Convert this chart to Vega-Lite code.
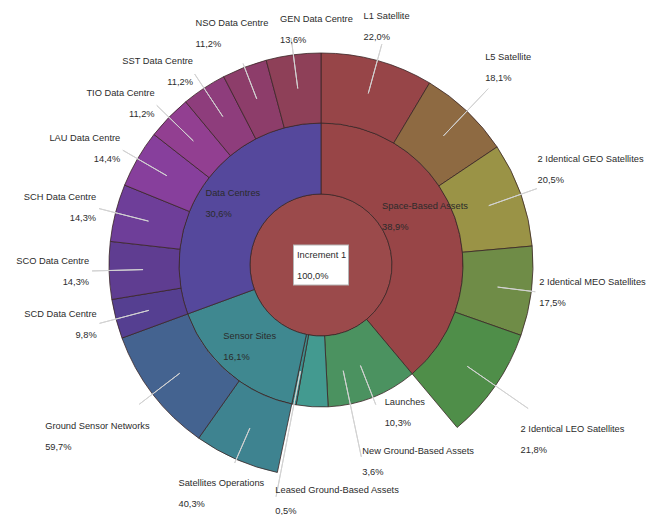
{
  "$schema": "https://vega.github.io/schema/vega-lite/v6.json",
  "width": 642,
  "height": 500,
  "autosize": {"type": "none"},
  "padding": {"left": 0, "right": 10, "top": 15, "bottom": 0},
  "background": "white",
  "config": {
    "view": {"stroke": null},
    "locale": {"number": {"decimal": ",", "thousands": ".", "grouping": [3], "currency": ["", " €"]}},
    "text": {"font": "Liberation Sans", "fontSize": 9.3, "color": "#2b2b2b", "baseline": "middle"},
    "arc": {"stroke": "#3a2626", "strokeWidth": 0.8}
  },
  "datasets": {
    "nodes": [
      {"idx": 0, "name": "Increment 1", "ring": 0, "share": 100, "pct": 1.0, "leaf": false},
      {"idx": 1, "name": "Space-Based Assets", "ring": 1, "share": 38.9, "pct": 0.389, "leaf": false},
      {"idx": 2, "name": "L1 Satellite", "ring": 2, "share": 8.558, "pct": 0.220, "leaf": true},
      {"idx": 3, "name": "L5 Satellite", "ring": 2, "share": 7.041, "pct": 0.181, "leaf": true},
      {"idx": 4, "name": "2 Identical GEO Satellites", "ring": 2, "share": 7.975, "pct": 0.205, "leaf": true},
      {"idx": 5, "name": "2 Identical MEO Satellites", "ring": 2, "share": 6.808, "pct": 0.175, "leaf": true},
      {"idx": 6, "name": "2 Identical LEO Satellites", "ring": 2, "share": 8.518, "pct": 0.218, "leaf": true},
      {"idx": 7, "name": "Launches", "ring": 1, "share": 10.3, "pct": 0.103, "leaf": true},
      {"idx": 8, "name": "New Ground-Based Assets", "ring": 1, "share": 3.6, "pct": 0.036, "leaf": true},
      {"idx": 9, "name": "Leased Ground-Based Assets", "ring": 1, "share": 0.5, "pct": 0.005, "leaf": true},
      {"idx": 10, "name": "Sensor Sites", "ring": 1, "share": 16.1, "pct": 0.161, "leaf": false},
      {"idx": 11, "name": "Satellites Operations", "ring": 2, "share": 6.488, "pct": 0.403, "leaf": true},
      {"idx": 12, "name": "Ground Sensor Networks", "ring": 2, "share": 9.612, "pct": 0.597, "leaf": true},
      {"idx": 13, "name": "Data Centres", "ring": 1, "share": 30.6, "pct": 0.306, "leaf": false},
      {"idx": 14, "name": "SCD Data Centre", "ring": 2, "share": 2.999, "pct": 0.098, "leaf": true},
      {"idx": 15, "name": "SCO Data Centre", "ring": 2, "share": 4.376, "pct": 0.143, "leaf": true},
      {"idx": 16, "name": "SCH Data Centre", "ring": 2, "share": 4.376, "pct": 0.143, "leaf": true},
      {"idx": 17, "name": "LAU Data Centre", "ring": 2, "share": 4.406, "pct": 0.144, "leaf": true},
      {"idx": 18, "name": "TIO Data Centre", "ring": 2, "share": 3.427, "pct": 0.112, "leaf": true},
      {"idx": 19, "name": "SST Data Centre", "ring": 2, "share": 3.427, "pct": 0.112, "leaf": true},
      {"idx": 20, "name": "NSO Data Centre", "ring": 2, "share": 3.427, "pct": 0.112, "leaf": true},
      {"idx": 21, "name": "GEN Data Centre", "ring": 2, "share": 4.162, "pct": 0.136, "leaf": true}
    ]
  },
  "data": {"name": "nodes"},
  "layer": [
    {
      "transform": [{"filter": "datum.ring == 0"}],
      "mark": {"type": "arc", "innerRadius": 0, "outerRadius": 71},
      "encoding": {
        "theta": {"field": "share", "type": "quantitative", "stack": true},
        "order": {"field": "idx", "type": "quantitative"},
        "color": {
          "field": "name", "type": "nominal", "legend": null,
          "scale": {
            "domain": ["Increment 1", "Space-Based Assets", "L1 Satellite", "L5 Satellite", "2 Identical GEO Satellites", "2 Identical MEO Satellites", "2 Identical LEO Satellites", "Launches", "New Ground-Based Assets", "Leased Ground-Based Assets", "Sensor Sites", "Satellites Operations", "Ground Sensor Networks", "Data Centres", "SCD Data Centre", "SCO Data Centre", "SCH Data Centre", "LAU Data Centre", "TIO Data Centre", "SST Data Centre", "NSO Data Centre", "GEN Data Centre"],
            "range": ["#9b4a4b", "#984547", "#974548", "#8e6a42", "#9a9346", "#6f8c47", "#4f8e49", "#4b9260", "#439a90", "#3d8f8f", "#3f8890", "#3e8390", "#446390", "#55489c", "#553f91", "#5f3d91", "#6e3e99", "#873f9c", "#923f91", "#8e3d7c", "#8d3d6a", "#8e4058"]
          }
        }
      }
    },
    {
      "transform": [{"filter": "datum.ring == 1"}],
      "mark": {"type": "arc", "innerRadius": 71, "outerRadius": 142},
      "encoding": {
        "theta": {"field": "share", "type": "quantitative", "stack": true},
        "order": {"field": "idx", "type": "quantitative"},
        "color": {"field": "name", "type": "nominal", "legend": null}
      }
    },
    {
      "transform": [{"filter": "datum.ring == 2 || datum.leaf"}],
      "mark": {"type": "arc", "innerRadius": 142, "outerRadius": 212},
      "encoding": {
        "theta": {"field": "share", "type": "quantitative", "stack": true},
        "order": {"field": "idx", "type": "quantitative"},
        "color": {"field": "name", "type": "nominal", "legend": null},
        "opacity": {"condition": {"test": "datum.ring == 1", "value": 0}, "value": 1}
      }
    },
    {
      "transform": [{"filter": "datum.ring == 2 || datum.leaf"}],
      "mark": {"type": "arc", "innerRadius": 178, "outerRadius": 229, "padAngle": 3.1416, "fillOpacity": 0, "stroke": "#d2d2d2", "strokeWidth": 1},
      "encoding": {
        "theta": {"field": "share", "type": "quantitative", "stack": true},
        "order": {"field": "idx", "type": "quantitative"},
        "strokeOpacity": {"condition": {"test": "datum.ring == 2 && indexof(['L5 Satellite','2 Identical LEO Satellites','2 Identical MEO Satellites','Satellites Operations','NSO Data Centre'], datum.name) < 0", "value": 1}, "value": 0}
      }
    },
    {
      "transform": [{"filter": "datum.ring == 2 || datum.leaf"}],
      "mark": {"type": "arc", "innerRadius": 178, "outerRadius": 243, "padAngle": 3.1416, "fillOpacity": 0, "stroke": "#d2d2d2", "strokeWidth": 1},
      "encoding": {
        "theta": {"field": "share", "type": "quantitative", "stack": true},
        "order": {"field": "idx", "type": "quantitative"},
        "strokeOpacity": {"condition": {"test": "datum.name == 'L5 Satellite'", "value": 1}, "value": 0}
      }
    },
    {
      "transform": [{"filter": "datum.ring == 2 || datum.leaf"}],
      "mark": {"type": "arc", "innerRadius": 178, "outerRadius": 252, "padAngle": 3.1416, "fillOpacity": 0, "stroke": "#d2d2d2", "strokeWidth": 1},
      "encoding": {
        "theta": {"field": "share", "type": "quantitative", "stack": true},
        "order": {"field": "idx", "type": "quantitative"},
        "strokeOpacity": {"condition": {"test": "datum.name == '2 Identical LEO Satellites'", "value": 1}, "value": 0}
      }
    },
    {
      "transform": [{"filter": "datum.ring == 2 || datum.leaf"}],
      "mark": {"type": "arc", "innerRadius": 178, "outerRadius": 216, "padAngle": 3.1416, "fillOpacity": 0, "stroke": "#d2d2d2", "strokeWidth": 1},
      "encoding": {
        "theta": {"field": "share", "type": "quantitative", "stack": true},
        "order": {"field": "idx", "type": "quantitative"},
        "strokeOpacity": {"condition": {"test": "indexof(['2 Identical MEO Satellites','Satellites Operations','NSO Data Centre'], datum.name) >= 0", "value": 1}, "value": 0}
      }
    },
    {
      "transform": [{"filter": "datum.ring == 1"}],
      "mark": {"type": "arc", "innerRadius": 108, "outerRadius": 150, "padAngle": 3.1416, "fillOpacity": 0, "stroke": "#d2d2d2", "strokeWidth": 1},
      "encoding": {
        "theta": {"field": "share", "type": "quantitative", "stack": true},
        "order": {"field": "idx", "type": "quantitative"},
        "strokeOpacity": {"condition": {"test": "datum.name == 'Launches'", "value": 1}, "value": 0}
      }
    },
    {
      "transform": [{"filter": "datum.ring == 1"}],
      "mark": {"type": "arc", "innerRadius": 108, "outerRadius": 196, "padAngle": 3.1416, "thetaOffset": -0.27, "theta2Offset": -0.27, "fillOpacity": 0, "stroke": "#d2d2d2", "strokeWidth": 1},
      "encoding": {
        "theta": {"field": "share", "type": "quantitative", "stack": true},
        "order": {"field": "idx", "type": "quantitative"},
        "strokeOpacity": {"condition": {"test": "datum.name == 'New Ground-Based Assets'", "value": 1}, "value": 0}
      }
    },
    {
      "transform": [{"filter": "datum.ring == 1"}],
      "mark": {"type": "arc", "innerRadius": 108, "outerRadius": 236, "padAngle": 3.1416, "fillOpacity": 0, "stroke": "#d2d2d2", "strokeWidth": 1},
      "encoding": {
        "theta": {"field": "share", "type": "quantitative", "stack": true},
        "order": {"field": "idx", "type": "quantitative"},
        "strokeOpacity": {"condition": {"test": "datum.name == 'Leased Ground-Based Assets'", "value": 1}, "value": 0}
      }
    },
    {
      "transform": [{"filter": "datum.ring == 1"}],
      "mark": {"type": "arc", "innerRadius": 0, "outerRadius": 28, "padAngle": 3.1416, "thetaOffset": 0.3487, "theta2Offset": 0.3487, "fillOpacity": 0, "stroke": "#b5b5b5", "strokeWidth": 41},
      "encoding": {
        "theta": {"field": "share", "type": "quantitative", "stack": true},
        "order": {"field": "idx", "type": "quantitative"},
        "strokeOpacity": {"condition": {"test": "datum.name == 'Space-Based Assets'", "value": 1}, "value": 0}
      }
    },
    {
      "transform": [{"filter": "datum.ring == 1"}],
      "mark": {"type": "arc", "innerRadius": 0, "outerRadius": 28, "padAngle": 3.1416, "thetaOffset": -0.6095, "theta2Offset": -0.6095, "fillOpacity": 0, "stroke": "#b5b5b5", "strokeWidth": 41},
      "encoding": {
        "theta": {"field": "share", "type": "quantitative", "stack": true},
        "order": {"field": "idx", "type": "quantitative"},
        "strokeOpacity": {"condition": {"test": "datum.name == 'Data Centres'", "value": 1}, "value": 0}
      }
    },
    {
      "transform": [{"filter": "datum.ring == 1"}],
      "mark": {"type": "arc", "innerRadius": 0, "outerRadius": 27, "padAngle": 3.1416, "thetaOffset": 0.3487, "theta2Offset": 0.3487, "fillOpacity": 0, "stroke": "white", "strokeWidth": 39},
      "encoding": {
        "theta": {"field": "share", "type": "quantitative", "stack": true},
        "order": {"field": "idx", "type": "quantitative"},
        "strokeOpacity": {"condition": {"test": "datum.name == 'Space-Based Assets'", "value": 1}, "value": 0}
      }
    },
    {
      "transform": [{"filter": "datum.ring == 1"}],
      "mark": {"type": "arc", "innerRadius": 0, "outerRadius": 27, "padAngle": 3.1416, "thetaOffset": -0.6095, "theta2Offset": -0.6095, "fillOpacity": 0, "stroke": "white", "strokeWidth": 39},
      "encoding": {
        "theta": {"field": "share", "type": "quantitative", "stack": true},
        "order": {"field": "idx", "type": "quantitative"},
        "strokeOpacity": {"condition": {"test": "datum.name == 'Data Centres'", "value": 1}, "value": 0}
      }
    },
    {
      "transform": [{"filter": "datum.ring == 2 || datum.leaf"}],
      "mark": {"type": "text", "radius": 238, "align": "left", "dx": -10, "dy": -10.5},
      "encoding": {
        "theta": {"field": "share", "type": "quantitative", "stack": true},
        "order": {"field": "idx", "type": "quantitative"},
        "text": {"condition": {"test": "datum.name == 'GEN Data Centre'", "field": "name", "type": "nominal"}, "value": ""}
      }
    },
    {
      "transform": [{"filter": "datum.ring == 2 || datum.leaf"}],
      "mark": {"type": "text", "radius": 238, "align": "left", "dx": -10, "dy": 10.5},
      "encoding": {
        "theta": {"field": "share", "type": "quantitative", "stack": true},
        "order": {"field": "idx", "type": "quantitative"},
        "text": {"condition": {"test": "datum.name == 'GEN Data Centre'", "field": "pct", "type": "quantitative", "format": ".1%"}, "value": ""}
      }
    },
    {
      "transform": [{"filter": "datum.ring == 2 || datum.leaf"}],
      "mark": {"type": "text", "radius": 247, "align": "left", "dx": -23, "dy": -10.5},
      "encoding": {
        "theta": {"field": "share", "type": "quantitative", "stack": true},
        "order": {"field": "idx", "type": "quantitative"},
        "text": {"condition": {"test": "datum.name == 'L1 Satellite'", "field": "name", "type": "nominal"}, "value": ""}
      }
    },
    {
      "transform": [{"filter": "datum.ring == 2 || datum.leaf"}],
      "mark": {"type": "text", "radius": 247, "align": "left", "dx": -23, "dy": 10.5},
      "encoding": {
        "theta": {"field": "share", "type": "quantitative", "stack": true},
        "order": {"field": "idx", "type": "quantitative"},
        "text": {"condition": {"test": "datum.name == 'L1 Satellite'", "field": "pct", "type": "quantitative", "format": ".1%"}, "value": ""}
      }
    },
    {
      "transform": [{"filter": "datum.ring == 2 || datum.leaf"}],
      "mark": {"type": "text", "radius": 272, "align": "left", "dx": -23, "dy": -10.5},
      "encoding": {
        "theta": {"field": "share", "type": "quantitative", "stack": true},
        "order": {"field": "idx", "type": "quantitative"},
        "text": {"condition": {"test": "datum.name == 'L5 Satellite'", "field": "name", "type": "nominal"}, "value": ""}
      }
    },
    {
      "transform": [{"filter": "datum.ring == 2 || datum.leaf"}],
      "mark": {"type": "text", "radius": 272, "align": "left", "dx": -23, "dy": 10.5},
      "encoding": {
        "theta": {"field": "share", "type": "quantitative", "stack": true},
        "order": {"field": "idx", "type": "quantitative"},
        "text": {"condition": {"test": "datum.name == 'L5 Satellite'", "field": "pct", "type": "quantitative", "format": ".1%"}, "value": ""}
      }
    },
    {
      "transform": [{"filter": "datum.ring == 2 || datum.leaf"}],
      "mark": {"type": "text", "radius": 286, "align": "left", "dx": -53, "dy": -10.5},
      "encoding": {
        "theta": {"field": "share", "type": "quantitative", "stack": true},
        "order": {"field": "idx", "type": "quantitative"},
        "text": {"condition": {"test": "datum.name == '2 Identical GEO Satellites'", "field": "name", "type": "nominal"}, "value": ""}
      }
    },
    {
      "transform": [{"filter": "datum.ring == 2 || datum.leaf"}],
      "mark": {"type": "text", "radius": 286, "align": "left", "dx": -53, "dy": 10.5},
      "encoding": {
        "theta": {"field": "share", "type": "quantitative", "stack": true},
        "order": {"field": "idx", "type": "quantitative"},
        "text": {"condition": {"test": "datum.name == '2 Identical GEO Satellites'", "field": "pct", "type": "quantitative", "format": ".1%"}, "value": ""}
      }
    },
    {
      "transform": [{"filter": "datum.ring == 2 || datum.leaf"}],
      "mark": {"type": "text", "radius": 220, "align": "left", "dy": -10.5},
      "encoding": {
        "theta": {"field": "share", "type": "quantitative", "stack": true},
        "order": {"field": "idx", "type": "quantitative"},
        "text": {"condition": {"test": "datum.name == '2 Identical MEO Satellites'", "field": "name", "type": "nominal"}, "value": ""}
      }
    },
    {
      "transform": [{"filter": "datum.ring == 2 || datum.leaf"}],
      "mark": {"type": "text", "radius": 220, "align": "left", "dy": 10.5},
      "encoding": {
        "theta": {"field": "share", "type": "quantitative", "stack": true},
        "order": {"field": "idx", "type": "quantitative"},
        "text": {"condition": {"test": "datum.name == '2 Identical MEO Satellites'", "field": "pct", "type": "quantitative", "format": ".1%"}, "value": ""}
      }
    },
    {
      "transform": [{"filter": "datum.ring == 2 || datum.leaf"}],
      "mark": {"type": "text", "radius": 306, "align": "left", "dx": -52, "dy": -10.5},
      "encoding": {
        "theta": {"field": "share", "type": "quantitative", "stack": true},
        "order": {"field": "idx", "type": "quantitative"},
        "text": {"condition": {"test": "datum.name == '2 Identical LEO Satellites'", "field": "name", "type": "nominal"}, "value": ""}
      }
    },
    {
      "transform": [{"filter": "datum.ring == 2 || datum.leaf"}],
      "mark": {"type": "text", "radius": 306, "align": "left", "dx": -52, "dy": 10.5},
      "encoding": {
        "theta": {"field": "share", "type": "quantitative", "stack": true},
        "order": {"field": "idx", "type": "quantitative"},
        "text": {"condition": {"test": "datum.name == '2 Identical LEO Satellites'", "field": "pct", "type": "quantitative", "format": ".1%"}, "value": ""}
      }
    },
    {
      "transform": [{"filter": "datum.ring == 2 || datum.leaf"}],
      "mark": {"type": "text", "radius": 282, "align": "left", "dx": -52, "dy": -10.5},
      "encoding": {
        "theta": {"field": "share", "type": "quantitative", "stack": true},
        "order": {"field": "idx", "type": "quantitative"},
        "text": {"condition": {"test": "datum.name == 'Ground Sensor Networks'", "field": "name", "type": "nominal"}, "value": ""}
      }
    },
    {
      "transform": [{"filter": "datum.ring == 2 || datum.leaf"}],
      "mark": {"type": "text", "radius": 282, "align": "left", "dx": -52, "dy": 10.5},
      "encoding": {
        "theta": {"field": "share", "type": "quantitative", "stack": true},
        "order": {"field": "idx", "type": "quantitative"},
        "text": {"condition": {"test": "datum.name == 'Ground Sensor Networks'", "field": "pct", "type": "quantitative", "format": ".1%"}, "value": ""}
      }
    },
    {
      "transform": [{"filter": "datum.ring == 2 || datum.leaf"}],
      "mark": {"type": "text", "radius": 249, "align": "left", "dx": -43, "dy": -10.5},
      "encoding": {
        "theta": {"field": "share", "type": "quantitative", "stack": true},
        "order": {"field": "idx", "type": "quantitative"},
        "text": {"condition": {"test": "datum.name == 'Satellites Operations'", "field": "name", "type": "nominal"}, "value": ""}
      }
    },
    {
      "transform": [{"filter": "datum.ring == 2 || datum.leaf"}],
      "mark": {"type": "text", "radius": 249, "align": "left", "dx": -43, "dy": 10.5},
      "encoding": {
        "theta": {"field": "share", "type": "quantitative", "stack": true},
        "order": {"field": "idx", "type": "quantitative"},
        "text": {"condition": {"test": "datum.name == 'Satellites Operations'", "field": "pct", "type": "quantitative", "format": ".1%"}, "value": ""}
      }
    },
    {
      "transform": [{"filter": "datum.ring == 2 || datum.leaf"}],
      "mark": {"type": "text", "radius": 232, "align": "right", "dy": -10.5},
      "encoding": {
        "theta": {"field": "share", "type": "quantitative", "stack": true},
        "order": {"field": "idx", "type": "quantitative"},
        "text": {"condition": {"test": "indexof(['SCD Data Centre','SCO Data Centre','SCH Data Centre','LAU Data Centre','TIO Data Centre','SST Data Centre'], datum.name) >= 0", "field": "name", "type": "nominal"}, "value": ""}
      }
    },
    {
      "transform": [{"filter": "datum.ring == 2 || datum.leaf"}],
      "mark": {"type": "text", "radius": 232, "align": "right", "dy": 10.5},
      "encoding": {
        "theta": {"field": "share", "type": "quantitative", "stack": true},
        "order": {"field": "idx", "type": "quantitative"},
        "text": {"condition": {"test": "indexof(['SCD Data Centre','SCO Data Centre','SCH Data Centre','LAU Data Centre','TIO Data Centre','SST Data Centre'], datum.name) >= 0", "field": "pct", "type": "quantitative", "format": ".1%"}, "value": ""}
      }
    },
    {
      "transform": [{"filter": "datum.ring == 2 || datum.leaf"}],
      "mark": {"type": "text", "radius": 248, "align": "left", "dx": -36, "dy": -10.5},
      "encoding": {
        "theta": {"field": "share", "type": "quantitative", "stack": true},
        "order": {"field": "idx", "type": "quantitative"},
        "text": {"condition": {"test": "datum.name == 'NSO Data Centre'", "field": "name", "type": "nominal"}, "value": ""}
      }
    },
    {
      "transform": [{"filter": "datum.ring == 2 || datum.leaf"}],
      "mark": {"type": "text", "radius": 248, "align": "left", "dx": -36, "dy": 10.5},
      "encoding": {
        "theta": {"field": "share", "type": "quantitative", "stack": true},
        "order": {"field": "idx", "type": "quantitative"},
        "text": {"condition": {"test": "datum.name == 'NSO Data Centre'", "field": "pct", "type": "quantitative", "format": ".1%"}, "value": ""}
      }
    },
    {
      "transform": [{"filter": "datum.ring == 1"}],
      "mark": {"type": "text", "radius": 158, "align": "left", "dx": 6, "dy": -10.5},
      "encoding": {
        "theta": {"field": "share", "type": "quantitative", "stack": true},
        "order": {"field": "idx", "type": "quantitative"},
        "text": {"condition": {"test": "datum.name == 'Launches'", "field": "name", "type": "nominal"}, "value": ""}
      }
    },
    {
      "transform": [{"filter": "datum.ring == 1"}],
      "mark": {"type": "text", "radius": 158, "align": "left", "dx": 6, "dy": 10.5},
      "encoding": {
        "theta": {"field": "share", "type": "quantitative", "stack": true},
        "order": {"field": "idx", "type": "quantitative"},
        "text": {"condition": {"test": "datum.name == 'Launches'", "field": "pct", "type": "quantitative", "format": ".1%"}, "value": ""}
      }
    },
    {
      "transform": [{"filter": "datum.ring == 1"}],
      "mark": {"type": "text", "radius": 201, "thetaOffset": -0.27, "align": "left", "dy": -10.5},
      "encoding": {
        "theta": {"field": "share", "type": "quantitative", "stack": true},
        "order": {"field": "idx", "type": "quantitative"},
        "text": {"condition": {"test": "datum.name == 'New Ground-Based Assets'", "field": "name", "type": "nominal"}, "value": ""}
      }
    },
    {
      "transform": [{"filter": "datum.ring == 1"}],
      "mark": {"type": "text", "radius": 201, "thetaOffset": -0.27, "align": "left", "dy": 10.5},
      "encoding": {
        "theta": {"field": "share", "type": "quantitative", "stack": true},
        "order": {"field": "idx", "type": "quantitative"},
        "text": {"condition": {"test": "datum.name == 'New Ground-Based Assets'", "field": "pct", "type": "quantitative", "format": ".1%"}, "value": ""}
      }
    },
    {
      "transform": [{"filter": "datum.ring == 1"}],
      "mark": {"type": "text", "radius": 240, "align": "left", "dy": -10.5},
      "encoding": {
        "theta": {"field": "share", "type": "quantitative", "stack": true},
        "order": {"field": "idx", "type": "quantitative"},
        "text": {"condition": {"test": "datum.name == 'Leased Ground-Based Assets'", "field": "name", "type": "nominal"}, "value": ""}
      }
    },
    {
      "transform": [{"filter": "datum.ring == 1"}],
      "mark": {"type": "text", "radius": 240, "align": "left", "dy": 10.5},
      "encoding": {
        "theta": {"field": "share", "type": "quantitative", "stack": true},
        "order": {"field": "idx", "type": "quantitative"},
        "text": {"condition": {"test": "datum.name == 'Leased Ground-Based Assets'", "field": "pct", "type": "quantitative", "format": ".1%"}, "value": ""}
      }
    },
    {
      "transform": [{"filter": "datum.ring == 1"}],
      "mark": {"type": "text", "radius": 115, "thetaOffset": -0.09, "align": "left", "dx": -43, "dy": -10.5},
      "encoding": {
        "theta": {"field": "share", "type": "quantitative", "stack": true},
        "order": {"field": "idx", "type": "quantitative"},
        "text": {"condition": {"test": "datum.name == 'Space-Based Assets'", "field": "name", "type": "nominal"}, "value": ""}
      }
    },
    {
      "transform": [{"filter": "datum.ring == 1"}],
      "mark": {"type": "text", "radius": 115, "thetaOffset": -0.09, "align": "left", "dx": -43, "dy": 10.5},
      "encoding": {
        "theta": {"field": "share", "type": "quantitative", "stack": true},
        "order": {"field": "idx", "type": "quantitative"},
        "text": {"condition": {"test": "datum.name == 'Space-Based Assets'", "field": "pct", "type": "quantitative", "format": ".1%"}, "value": ""}
      }
    },
    {
      "transform": [{"filter": "datum.ring == 1"}],
      "mark": {"type": "text", "radius": 108, "align": "left", "dx": -27, "dy": -10.5},
      "encoding": {
        "theta": {"field": "share", "type": "quantitative", "stack": true},
        "order": {"field": "idx", "type": "quantitative"},
        "text": {"condition": {"test": "indexof(['Sensor Sites','Data Centres'], datum.name) >= 0", "field": "name", "type": "nominal"}, "value": ""}
      }
    },
    {
      "transform": [{"filter": "datum.ring == 1"}],
      "mark": {"type": "text", "radius": 108, "align": "left", "dx": -27, "dy": 10.5},
      "encoding": {
        "theta": {"field": "share", "type": "quantitative", "stack": true},
        "order": {"field": "idx", "type": "quantitative"},
        "text": {"condition": {"test": "indexof(['Sensor Sites','Data Centres'], datum.name) >= 0", "field": "pct", "type": "quantitative", "format": ".1%"}, "value": ""}
      }
    },
    {
      "transform": [{"filter": "datum.ring == 0"}],
      "mark": {"type": "text", "radius": 0, "align": "left", "dx": -24, "dy": -10.5},
      "encoding": {
        "theta": {"field": "share", "type": "quantitative", "stack": true},
        "text": {"field": "name", "type": "nominal"}
      }
    },
    {
      "transform": [{"filter": "datum.ring == 0"}],
      "mark": {"type": "text", "radius": 0, "align": "left", "dx": -24, "dy": 10.5},
      "encoding": {
        "theta": {"field": "share", "type": "quantitative", "stack": true},
        "text": {"field": "pct", "type": "quantitative", "format": ".1%"}
      }
    }
  ]
}
